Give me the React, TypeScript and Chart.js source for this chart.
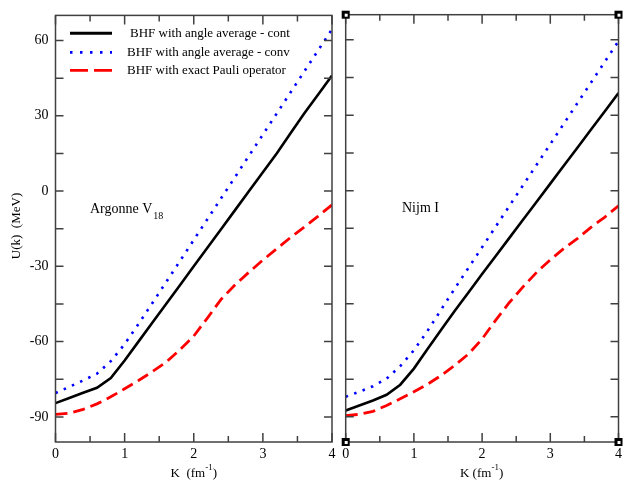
import React, { useEffect, useRef } from "react";
import { Chart, registerables } from "chart.js";

Chart.register(...registerables);

// ---------- data ----------
const kValues = [0, 0.2, 0.4, 0.6, 0.8, 1.0, 1.2, 1.4, 1.6, 1.8, 2.0, 2.2, 2.4, 2.6, 2.8, 3.0, 3.2, 3.4, 3.6, 3.8, 4.0];

const argonneCont = [-84.5, -82.5, -80.4, -78.4, -74.5, -67.5, -60.0, -52.5, -45.0, -37.5, -30.0, -22.5, -15.0, -7.5, 0.0, 7.5, 15.0, 23.0, 31.0, 38.5, 46.0];
const argonneConv = [-80.5, -78.0, -75.5, -72.8, -67.8, -61.0, -53.0, -44.7, -36.3, -27.9, -19.5, -11.1, -2.7, 5.7, 14.1, 22.5, 30.9, 39.3, 47.7, 56.1, 64.5];
const argonnePauli = [-89.0, -88.5, -87.0, -84.8, -82.0, -78.8, -75.5, -72.0, -68.2, -63.2, -57.8, -50.5, -43.0, -37.3, -32.3, -27.5, -23.0, -18.5, -14.3, -10.0, -5.5];

const nijmCont = [-87.5, -85.5, -83.5, -81.2, -77.2, -70.8, -63.0, -55.3, -47.8, -40.5, -33.2, -26.0, -18.8, -11.6, -4.4, 2.8, 10.0, 17.2, 24.4, 31.6, 38.8];
const nijmConv = [-82.0, -80.0, -77.8, -74.8, -69.8, -63.5, -55.8, -47.3, -38.9, -30.7, -22.5, -14.3, -6.1, 2.1, 10.3, 18.5, 26.7, 34.9, 43.1, 51.3, 59.5];
const nijmPauli = [-89.5, -89.0, -87.8, -85.5, -82.8, -80.0, -77.0, -73.5, -69.5, -65.0, -59.0, -51.5, -44.5, -38.3, -32.5, -27.5, -23.0, -19.0, -14.5, -10.5, -6.0];

const xTickValues = [0, 0.5, 1, 1.5, 2, 2.5, 3, 3.5, 4];
const xLabelValues = [0, 1, 2, 3, 4];
const yTickValues = [-90, -75, -60, -45, -30, -15, 0, 15, 30, 45, 60];
const yLabelValues = [-90, -60, -30, 0, 30, 60];

const seriesNames = [
  "BHF with angle average - cont",
  "BHF with angle average - conv",
  "BHF with exact Pauli operator",
];
const panelNames = ["Argonne V", "Nijm I"];
const panelSub = "18";
const xTitle = "K  (fm";
const xTitleRight = "K (fm";
const xTitleSup = "-1";
const yTitle = "U(k)  (MeV)";

const FONT = "'Liberation Serif', 'Times New Roman', serif";
const W = 626;
const H = 482;

const styles = [
  { color: "#000000", width: 2.6, dash: [] as number[] },
  { color: "#0000ff", width: 2.6, dash: [2.5, 6.5] },
  { color: "#ff0000", width: 2.8, dash: [12, 6] },
];

function makeDatasets(series: number[][]) {
  return series.map((vals, i) => ({
    label: seriesNames[i],
    data: kValues.map((k, j) => ({ x: k, y: vals[j] })),
    borderColor: styles[i].color,
    borderWidth: styles[i].width,
    borderDash: styles[i].dash,
    pointRadius: 0,
    fill: false,
    tension: 0,
  }));
}

function framePlugin(isLeft: boolean) {
  return {
    id: "frame" + (isLeft ? "L" : "R"),
    afterDraw(chart: any) {
      const ctx = chart.ctx;
      const a = chart.chartArea;
      const xs = chart.scales.x;
      const ys = chart.scales.y;
      ctx.save();
      ctx.strokeStyle = "#404040";
      ctx.lineWidth = 1.5;
      ctx.strokeRect(a.left, a.top, a.right - a.left, a.bottom - a.top);
      ctx.beginPath();
      xTickValues.forEach((v) => {
        const px = xs.getPixelForValue(v);
        const len = Number.isInteger(v) ? 9 : 6;
        ctx.moveTo(px, a.bottom);
        ctx.lineTo(px, a.bottom - len);
        ctx.moveTo(px, a.top);
        ctx.lineTo(px, a.top + len);
      });
      yTickValues.forEach((v) => {
        const py = ys.getPixelForValue(v);
        ctx.moveTo(a.left, py);
        ctx.lineTo(a.left + 8, py);
        ctx.moveTo(a.right, py);
        ctx.lineTo(a.right - 8, py);
      });
      ctx.stroke();

      // x title
      ctx.fillStyle = "#000";
      ctx.textBaseline = "alphabetic";
      ctx.textAlign = "left";
      ctx.font = "13px " + FONT;
      const main = isLeft ? xTitle : xTitleRight;
      const mw = ctx.measureText(main).width;
      ctx.font = "9px " + FONT;
      const sw = ctx.measureText(xTitleSup).width;
      ctx.font = "13px " + FONT;
      const pw = ctx.measureText(")").width;
      const total = mw + sw + pw;
      const cx = (a.left + a.right) / 2 + (isLeft ? 0 : -0.5);
      let x0 = cx - total / 2;
      ctx.fillText(main, x0, 477);
      ctx.font = "9px " + FONT;
      ctx.fillText(xTitleSup, x0 + mw, 470);
      ctx.font = "13px " + FONT;
      ctx.fillText(")", x0 + mw + sw, 477);

      // panel name
      ctx.font = "14px " + FONT;
      if (isLeft) {
        ctx.fillText(panelNames[0], 90, 213);
        const nw = ctx.measureText(panelNames[0]).width;
        ctx.font = "10px " + FONT;
        ctx.fillText(panelSub, 90 + nw + 1, 219);
      } else {
        ctx.fillText(panelNames[1], 402, 212);
      }

      if (isLeft) {
        // y title
        ctx.save();
        ctx.translate(17, 226);
        ctx.rotate(-Math.PI / 2);
        ctx.textAlign = "center";
        ctx.textBaseline = "middle";
        ctx.font = "13px " + FONT;
        ctx.fillText(yTitle, 0, 0);
        ctx.restore();

        // legend
        const rows = [33.3, 52.3, 70.3];
        const textX = [130, 127, 127];
        rows.forEach((ry, i) => {
          ctx.beginPath();
          ctx.strokeStyle = styles[i].color;
          ctx.lineWidth = i === 0 ? 3 : 2.8;
          ctx.setLineDash(i === 1 ? [2.5, 7.5] : i === 2 ? [18, 6] : []);
          ctx.moveTo(70, ry);
          ctx.lineTo(112, ry);
          ctx.stroke();
          ctx.setLineDash([]);
          ctx.fillStyle = "#000";
          ctx.font = "13px " + FONT;
          ctx.textBaseline = "middle";
          ctx.fillText(seriesNames[i], textX[i], ry);
        });
      } else {
        // corner markers
        const corners = [
          [a.left, a.top],
          [a.right, a.top],
          [a.left, a.bottom],
          [a.right, a.bottom],
        ];
        corners.forEach(([cx2, cy2]) => {
          ctx.fillStyle = "#000";
          ctx.fillRect(cx2 - 4, cy2 - 4, 8, 8);
          ctx.fillStyle = "#fff";
          ctx.fillRect(cx2 - 1, cy2 - 1, 3, 3);
        });
      }
      ctx.restore();
    },
  };
}

function makeConfig(isLeft: boolean): any {
  const series = isLeft
    ? [argonneCont, argonneConv, argonnePauli]
    : [nijmCont, nijmConv, nijmPauli];
  return {
    type: "line",
    data: { datasets: makeDatasets(series) },
    options: {
      animation: false,
      responsive: false,
      devicePixelRatio: 1,
      layout: {
        padding: isLeft
          ? { left: 0, right: W - 332, top: 14.7, bottom: 0 }
          : { left: 0, right: W - 621.7, top: 14.7, bottom: 0 },
      },
      plugins: { legend: { display: false }, tooltip: { enabled: false } },
      scales: {
        x: {
          type: "linear",
          min: 0,
          max: 4,
          grid: { display: false, drawTicks: false, tickLength: 0 },
          border: { display: false },
          afterBuildTicks: (s: any) => {
            s.ticks = xTickValues.map((v) => ({ value: v }));
          },
          afterFit: (s: any) => {
            s.height = 40;
          },
          ticks: {
            autoSkip: false,
            maxRotation: 0,
            padding: 4,
            color: "#000",
            font: { family: FONT, size: 14 },
            callback: (v: number) => (xLabelValues.includes(v) ? String(v) : ""),
          },
        },
        y: {
          type: "linear",
          min: -100,
          max: 70,
          grid: { display: false, drawTicks: false, tickLength: 0 },
          border: { display: false },
          afterBuildTicks: (s: any) => {
            s.ticks = yTickValues.map((v) => ({ value: v }));
          },
          afterFit: (s: any) => {
            s.width = isLeft ? 55.5 : 345.7;
          },
          ticks: {
            display: isLeft,
            autoSkip: false,
            padding: 7,
            color: "#000",
            font: { family: FONT, size: 14 },
            callback: (v: number) => (yLabelValues.includes(v) ? String(v) : ""),
          },
        },
      },
    },
    plugins: [framePlugin(isLeft)],
  };
}

export default function App() {
  const leftRef = useRef<HTMLCanvasElement>(null);
  const rightRef = useRef<HTMLCanvasElement>(null);

  useEffect(() => {
    const c1 = new Chart(leftRef.current as HTMLCanvasElement, makeConfig(true));
    const c2 = new Chart(rightRef.current as HTMLCanvasElement, makeConfig(false));
    return () => {
      c1.destroy();
      c2.destroy();
    };
  }, []);

  const cs: React.CSSProperties = { position: "absolute", left: 0, top: 0, width: W, height: H };
  return (
    <div style={{ position: "fixed", left: 0, top: 0, width: W, height: H, background: "#fff" }}>
      <canvas ref={leftRef} width={W} height={H} style={cs} />
      <canvas ref={rightRef} width={W} height={H} style={cs} />
    </div>
  );
}
